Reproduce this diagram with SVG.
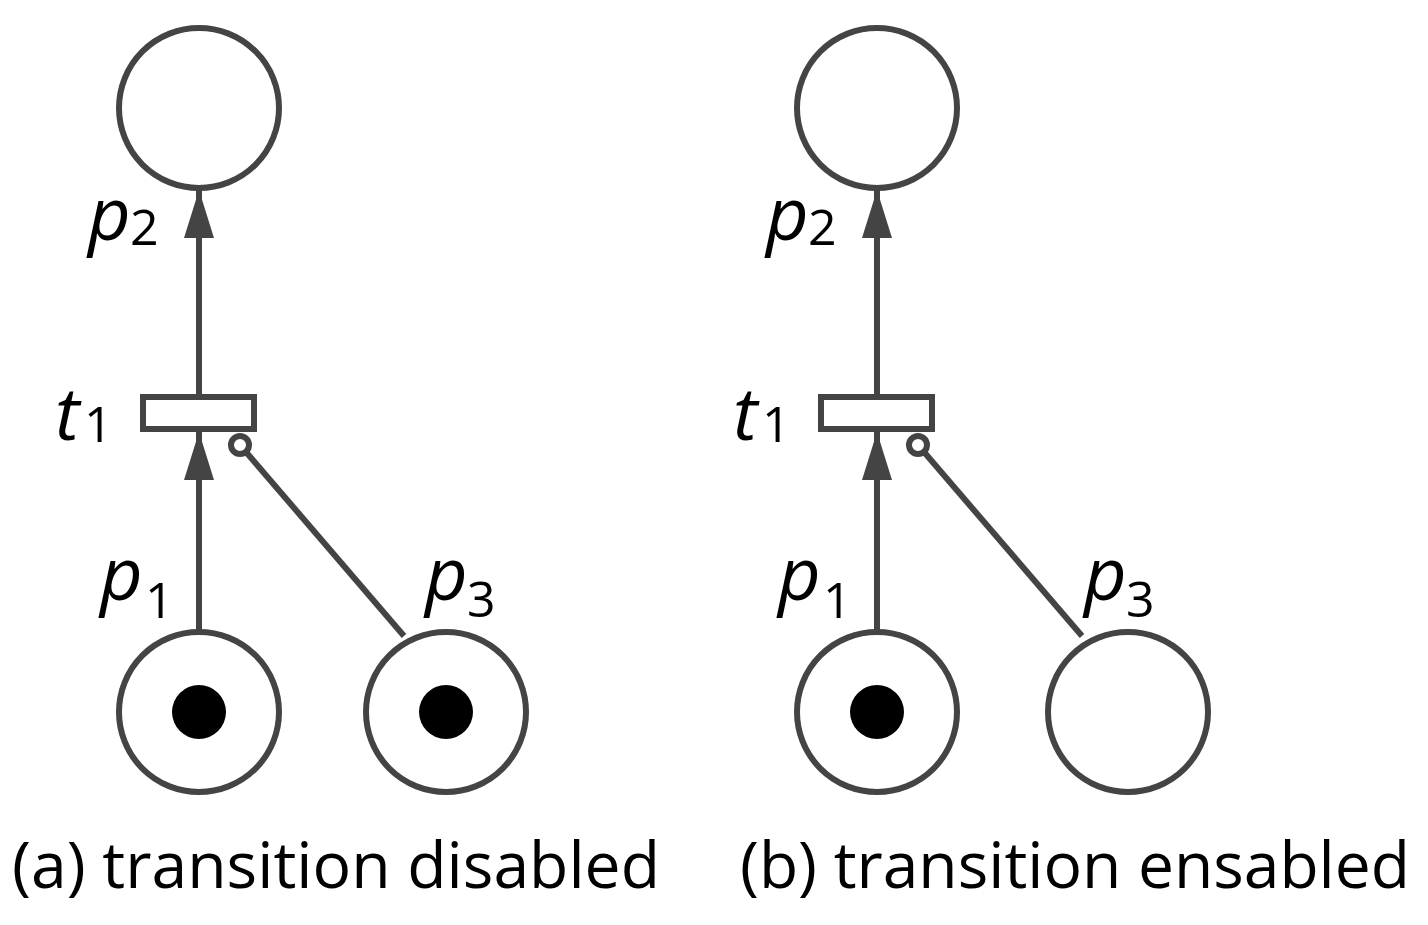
<svg xmlns="http://www.w3.org/2000/svg" width="1428" height="925" viewBox="0 0 1428 925">
<style>
.pl{fill:#fff;stroke:#444;stroke-width:6}
.tk{fill:#000}
.ln{stroke:#444;stroke-width:6;fill:none}
.lb{font-family:"Open Sans","Liberation Sans",sans-serif;font-style:italic;font-size:74px;fill:#000}
.sb{font-family:"Open Sans","Liberation Sans",sans-serif;font-size:50px;fill:#000}
.cap{font-family:"Open Sans","Liberation Sans",sans-serif;font-size:64px;fill:#000}
</style>
<defs>
<marker id="ah" markerWidth="48" markerHeight="30" refX="48" refY="15" orient="auto" markerUnits="userSpaceOnUse" viewBox="0 0 48 30">
<path d="M0,0 L48,15 L0,30 Z" fill="#444"/>
</marker>
</defs>
<g id="connectors">
<line class="ln" x1="199" y1="395" x2="199" y2="190" marker-end="url(#ah)"/>
<line class="ln" x1="199" y1="630" x2="199" y2="432" marker-end="url(#ah)"/>
<line class="ln" x1="404" y1="636" x2="246" y2="452"/>
<circle class="pl" cx="240" cy="445" r="9"/>
<line class="ln" x1="877" y1="395" x2="877" y2="190" marker-end="url(#ah)"/>
<line class="ln" x1="877" y1="630" x2="877" y2="432" marker-end="url(#ah)"/>
<line class="ln" x1="1082" y1="636" x2="924" y2="452"/>
<circle class="pl" cx="918" cy="445" r="9"/>
</g>
<g id="a-p2"><circle class="pl" cx="199" cy="108" r="80"/><text class="lb" x="88" y="240">p</text><text class="sb" x="130" y="245">2</text></g>
<g id="a-t1"><rect class="pl" x="143" y="397" width="111" height="32"/><text class="lb" x="55" y="440">t</text><text class="sb" x="84" y="442">1</text></g>
<g id="a-p1"><circle class="pl" cx="199" cy="712" r="80"/><circle class="tk" cx="199" cy="712" r="27"/><text class="lb" x="100" y="600">p</text><text class="sb" x="145" y="618">1</text></g>
<g id="a-p3"><circle class="pl" cx="446" cy="712" r="80"/><circle class="tk" cx="446" cy="712" r="27"/><text class="lb" x="425" y="600">p</text><text class="sb" x="467" y="617">3</text></g>
<g id="b-p2"><circle class="pl" cx="877" cy="108" r="80"/><text class="lb" x="766" y="240">p</text><text class="sb" x="808" y="245">2</text></g>
<g id="b-t1"><rect class="pl" x="821" y="397" width="111" height="32"/><text class="lb" x="733" y="440">t</text><text class="sb" x="762" y="442">1</text></g>
<g id="b-p1"><circle class="pl" cx="877" cy="712" r="80"/><circle class="tk" cx="877" cy="712" r="27"/><text class="lb" x="778" y="600">p</text><text class="sb" x="823" y="618">1</text></g>
<g id="b-p3"><circle class="pl" cx="1128" cy="712" r="80"/><text class="lb" x="1084" y="600">p</text><text class="sb" x="1126" y="617">3</text></g>
<text class="cap" x="12" y="888" textLength="648" lengthAdjust="spacingAndGlyphs">(a) transition disabled</text>
<text class="cap" x="740" y="888" textLength="670" lengthAdjust="spacingAndGlyphs">(b) transition ensabled</text>
</svg>
